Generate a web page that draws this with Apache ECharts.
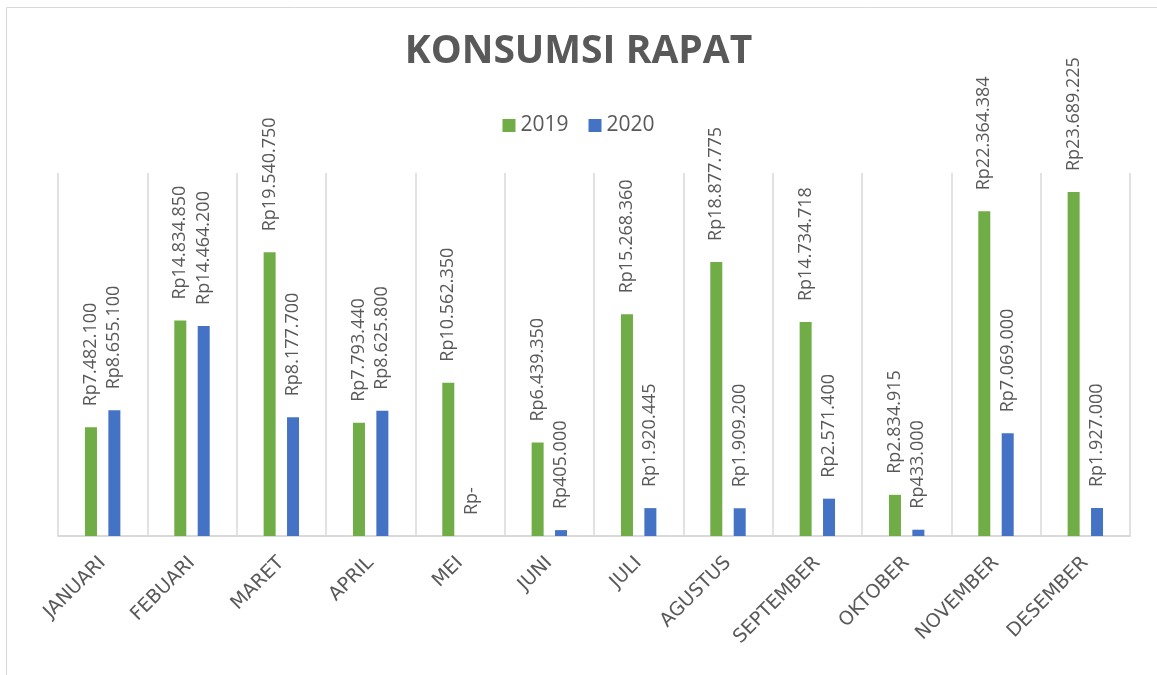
<!DOCTYPE html>
<html lang="id">
<head>
    <meta charset="UTF-8"/>
    <title>Konsumsi Rapat</title>
    <script src="https://cdn.jsdelivr.net/npm/echarts@6/dist/echarts.min.js"></script>
    <style>
        html, body { margin: 0; padding: 0; background: #fff; }
    </style>
</head>
<body>

<div id="main" style="width: 1157px;height:675px;"></div>

<script type="text/javascript">
    // data
    var bulan = ['JANUARI', 'FEBUARI', 'MARET', 'APRIL', 'MEI', 'JUNI', 'JULI',
                 'AGUSTUS', 'SEPTEMBER', 'OKTOBER', 'NOVEMBER', 'DESEMBER'];
    var tahun = ['2019', '2020'];
    var nilai2019 = [7482100, 14834850, 19540750, 7793440, 10562350, 6439350,
                     15268360, 18877775, 14734718, 2834915, 22364384, 23689225];
    var nilai2020 = [8655100, 14464200, 8177700, 8625800, 0, 405000,
                     1920445, 1909200, 2571400, 433000, 7069000, 1927000];

    var abu = '#595959';

    function rupiah(v) {
        if (!v) return 'Rp-';
        return 'Rp' + String(v).replace(/\B(?=(\d{3})+(?!\d))/g, '.');
    }

    var labelOpt = {
        show: true,
        position: 'top',
        rotate: 90,
        align: 'left',
        verticalAlign: 'middle',
        distance: 21,
        color: abu,
        fontFamily: 'Open Sans',
        fontSize: 18,
        formatter: function (p) { return rupiah(p.value); }
    };

    var myChart = echarts.init(document.getElementById('main'));

    var option = {
        backgroundColor: '#fff',
        animation: false,
        title: {
            text: 'KONSUMSI RAPAT',
            left: 'center',
            top: 27,
            textStyle: {
                color: abu,
                fontFamily: 'Open Sans',
                fontWeight: 'bold',
                fontSize: 39
            }
        },
        legend: {
            data: tahun,
            top: 110,
            left: 'center',
            itemWidth: 13,
            itemHeight: 13,
            itemGap: 20,
            icon: 'rect',
            textStyle: { color: abu, fontFamily: 'Open Sans', fontSize: 21 }
        },
        graphic: [{
            type: 'rect',
            shape: { x: 6.5, y: 7.5, width: 1200, height: 700 },
            style: { fill: 'none', stroke: '#d9d9d9', lineWidth: 1 }
        }],
        grid: {
            left: 58,
            right: 27,
            top: 173,
            bottom: 139
        },
        xAxis: {
            type: 'category',
            data: bulan,
            axisLine: { lineStyle: { color: '#d9d9d9', width: 2 } },
            axisTick: { show: false },
            splitLine: { show: true, lineStyle: { color: '#d9d9d9', width: 1.5 } },
            axisLabel: {
                rotate: 45,
                margin: 24,
                interval: 0,
                color: abu,
                fontFamily: 'DejaVu Sans',
                fontSize: 19
            }
        },
        yAxis: {
            type: 'value',
            min: 0,
            max: 25000000,
            show: false,
            splitLine: { show: false }
        },
        series: [
            {
                name: '2019',
                type: 'bar',
                data: nilai2019,
                barWidth: 12,
                barGap: '95%',
                itemStyle: { color: '#70ad47' },
                label: labelOpt
            },
            {
                name: '2020',
                type: 'bar',
                data: nilai2020,
                barWidth: 12,
                itemStyle: { color: '#4472c4' },
                label: labelOpt
            }
        ]
    };

    myChart.setOption(option);
</script>
</body>
</html>
